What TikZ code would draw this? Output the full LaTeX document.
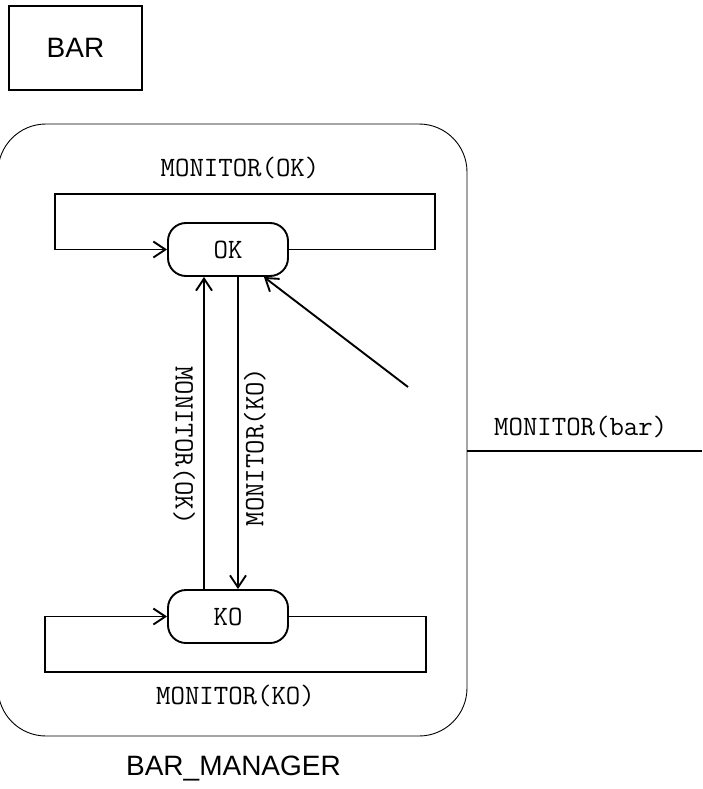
\documentclass[tikz,border=0pt]{standalone}
\usepackage{fontspec}
\setmainfont{Liberation Sans}
\usetikzlibrary{arrows.meta, positioning}

\begin{document}
\begin{tikzpicture}[
    x=1pt, y=-1pt,
    state/.style={
        draw,
        line width=1.9pt,
        rounded corners=18pt,
        minimum width=120pt,
        minimum height=53pt,
        font=\ttfamily\fontsize{28}{32}\selectfont
    },
    flow/.style={-{Straight Barb[length=12pt, width=16pt, line width=1.9pt]}, line width=1.9pt},
    wire/.style={line width=1.9pt},
    mlabel/.style={font=\ttfamily\fontsize{28}{32}\selectfont, inner sep=2pt},
    title/.style={font=\fontsize{28}{32}\selectfont}
]
\useasboundingbox (0,0) rectangle (702,789);

% Component and its boundary
\node[draw, line width=1.9pt, minimum width=133pt, minimum height=84pt, title] (bar) at (75.5,48) {BAR};
\node[draw, line width=0.9pt, rounded corners=48pt, minimum width=469pt, minimum height=612pt] (manager) at (232.5,430) {};
\node[title, below=16pt of manager.south, xshift=1pt] (managername) {BAR\_MANAGER};

% States
\node[state] (ok) at (228,249.5) {OK};
\node[state] (ko) at (228,616.5) {KO};

% Self loops
\coordinate (okne) at (435,194);
\coordinate (oknw) at (55,194);
\draw[flow] (ok.east) -| (okne) -- node[mlabel, above=12pt, xshift=-5pt] {MONITOR(OK)} (oknw) |- (ok.west);

\coordinate (kose) at (426,672);
\coordinate (kosw) at (45,672);
\draw[flow] (ko.east) -| (kose) -- node[mlabel, below=10pt] {MONITOR(KO)} (kosw) |- (ko.west);

% Transitions between states
\draw[flow] ([xshift=-24pt]ko.north) -- node[mlabel, pos=0.46, rotate=-90, anchor=north, yshift=-6pt] {MONITOR(OK)} ([xshift=-24pt]ok.south);
\draw[flow] ([xshift=10pt]ok.south) -- node[mlabel, pos=0.545, rotate=90, anchor=north, yshift=-3pt] {MONITOR(KO)} ([xshift=10pt]ko.north);

% Incoming port
\coordinate (bartail) at (408,387);
\draw[flow] (bartail) -- (ok);
\coordinate (barend) at (702,451);
\draw[wire] (manager.east |- barend) -- node[mlabel, above=10pt, xshift=-4pt] {MONITOR(bar)} (barend);

\end{tikzpicture}
\end{document}
